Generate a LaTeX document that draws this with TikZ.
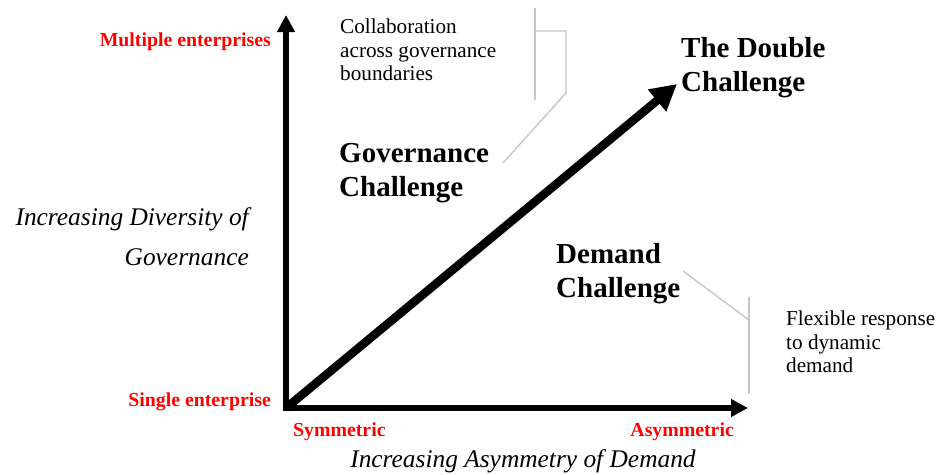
\documentclass[tikz,border=0pt]{standalone}
\usepackage{fontspec}
\setmainfont{Liberation Serif}
\usepackage{xcolor}
\usetikzlibrary{arrows.meta}
\definecolor{axisred}{rgb}{1,0,0}

\begin{document}
\begin{tikzpicture}[
x = 1pt, y = -1pt,
axisarr/.style={-{Triangle[length=17pt, width=17pt]}, line width = 6, draw = black},
dblarr/.style={-{Triangle[length=26pt, width=27pt]}, line width = 8.5, draw = black},
redlab/.style={text = axisred, font = \fontsize{19.8}{22}\selectfont\bfseries, inner sep = 0},
axislab/.style={font = \fontsize{25.4}{40}\selectfont\itshape, inner sep = 0},
chalab/.style={align = left, font = \fontsize{29}{34}\selectfont\bfseries, inner sep = 0},
notelab/.style={align = left, font = \fontsize{21.2}{23.5}\selectfont, inner sep = 0},
brack/.style={draw = gray!45, line width = 1.4}]

\useasboundingbox (0,0) rectangle (939,474);

% axes
\coordinate (O) at (286,408);
\coordinate (Ytop) at (286,15);
\coordinate (Xend) at (748,408);
\coordinate (Dend) at (677,84);
\draw[axisarr] (286,411) -- (Ytop);
\draw[axisarr] (283,408) -- (Xend);
\draw[dblarr] (O) -- (Dend);

% axis labels
\node[redlab, anchor = east] (multi) at (271,42) {Multiple enterprises};
\node[redlab, anchor = east] (single) at (271,402) {Single enterprise};
\node[redlab, anchor = west] (sym) at (293,432) {Symmetric};
\node[redlab, anchor = east] (asym) at (734,432) {Asymmetric};
\node[axislab] (xtitle) at (523,461) {Increasing Asymmetry of Demand};
\node[axislab, align = right, anchor = east] (ytitle) at (249,237) {Increasing Diversity of\\Governance};

% challenges
\node[chalab, anchor = west] (gov) at (339,173) {Governance\\Challenge};
\node[chalab, anchor = west] (dbl) at (681,68) {The Double\\Challenge};
\node[chalab, anchor = west] (dem) at (556,274) {Demand\\Challenge};

% notes
\node[notelab, anchor = north west] (collab) at (340,19) {Collaboration\\across governance\\boundaries};
\node[notelab, anchor = north west] (flex) at (786,311) {Flexible response\\to dynamic\\demand};

% brackets
\coordinate (gb1) at (535,8);
\coordinate (gb2) at (535,100);
\coordinate (gb3) at (535,31);
\coordinate (gb4) at (566,93);
\coordinate (gb5) at (503,163);
\draw[brack] (gb1) -- (gb2);
\draw[brack] (gb3) -| (gb4) -- (gb5);

\coordinate (db1) at (749,297);
\coordinate (db2) at (749,394);
\coordinate (db3) at (749,320);
\coordinate (db4) at (683,271);
\draw[brack] (db1) -- (db2);
\draw[brack] (db3) -- (db4);

\end{tikzpicture}
\end{document}
